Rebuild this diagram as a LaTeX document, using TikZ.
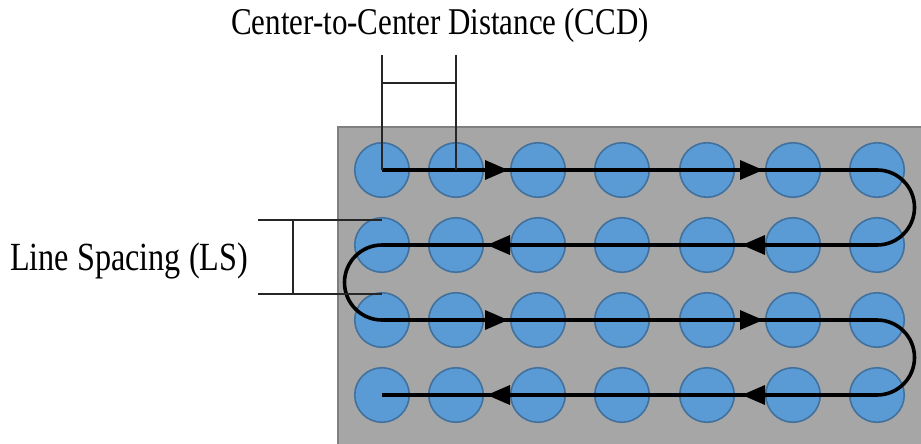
\documentclass[tikz,border=0pt]{standalone}
\usepackage{fontspec}
\setmainfont{Liberation Serif}

\definecolor{plate}{HTML}{A6A6A6}
\definecolor{plateedge}{HTML}{7F7F7F}
\definecolor{spotfill}{HTML}{5B9BD5}
\definecolor{spotedge}{HTML}{41719C}

\tikzset{
  spot/.style={circle, minimum size=54.5pt, inner sep=0pt, fill=spotfill, draw=spotedge, line width=1.6pt},
  flow/.style={draw=black, line width=3.6pt, line join=round},
  headfill/.style={fill=black},
  dimline/.style={draw=black!85, line width=1.1pt},
  lbl/.style={inner sep=0pt, font=\fontsize{31}{36}\selectfont}
}

\begin{document}
\begin{tikzpicture}[x=1pt, y=-1pt]
  \useasboundingbox (0,0) rectangle (921,444);

  % substrate plate
  \fill[plate, draw=plateedge, line width=2.2pt] (338,127) rectangle (940,460);

  % grid of spots: 4 rows x 7 columns
  \foreach \r/\y in {1/170, 2/245, 3/320, 4/395}{
    \foreach \c/\x in {1/382, 2/456, 3/538, 4/622, 5/707, 6/793, 7/877}{
      \node[spot] (c\r\c) at (\x,\y) {};
    }
  }

  % serpentine scan path
  \draw[flow] (c11.center) -- (c17.center)
    arc[start angle=90, end angle=-90, radius=37.5pt] -- (c21.center)
    arc[start angle=90, end angle=270, radius=37.5pt] -- (c37.center)
    arc[start angle=90, end angle=-90, radius=37.5pt] -- (c41.center);

  % direction arrowheads along the path
  \coordinate (t11) at (508,170);
  \coordinate (t12) at (763,170);
  \coordinate (t21) at (487,245);
  \coordinate (t22) at (742,245);
  \coordinate (t31) at (508,320);
  \coordinate (t32) at (763,320);
  \coordinate (t41) at (487,395);
  \coordinate (t42) at (742,395);
  \foreach \t in {t11,t12,t31,t32}{
    \fill[headfill] (\t) -- ++(-23,-10) -- ++(0,20) -- cycle;
  }
  \foreach \t in {t21,t22,t41,t42}{
    \fill[headfill] (\t) -- ++(23,-10) -- ++(0,20) -- cycle;
  }

  % center-to-center dimension
  \coordinate (ccdL) at (382,55);
  \coordinate (ccdR) at (456,55);
  \coordinate (ccdHL) at (382,83);
  \coordinate (ccdHR) at (456,83);
  \draw[dimline] (ccdL) -- (c11.center);
  \draw[dimline] (ccdR) -- (c12.center);
  \draw[dimline] (ccdHL) -- (ccdHR);

  % line spacing dimension
  \coordinate (lsTL) at (258,220);
  \coordinate (lsTR) at (382,220);
  \coordinate (lsBL) at (258,294);
  \coordinate (lsBR) at (382,294);
  \coordinate (lsVT) at (293,220);
  \coordinate (lsVB) at (293,294);
  \draw[dimline] (lsTL) -- (lsTR);
  \draw[dimline] (lsBL) -- (lsBR);
  \draw[dimline] (lsVT) -- (lsVB);

  % labels
  \node[lbl, anchor=base] (ccd) at (440,35) {\scalebox{1}[1.22]{Center-to-Center Distance (CCD)}};
  \node[lbl, anchor=base west, font=\fontsize{32.2}{38}\selectfont] (ls) at (10,270) {\scalebox{1}[1.24]{Line Spacing (LS)}};
\end{tikzpicture}
\end{document}
